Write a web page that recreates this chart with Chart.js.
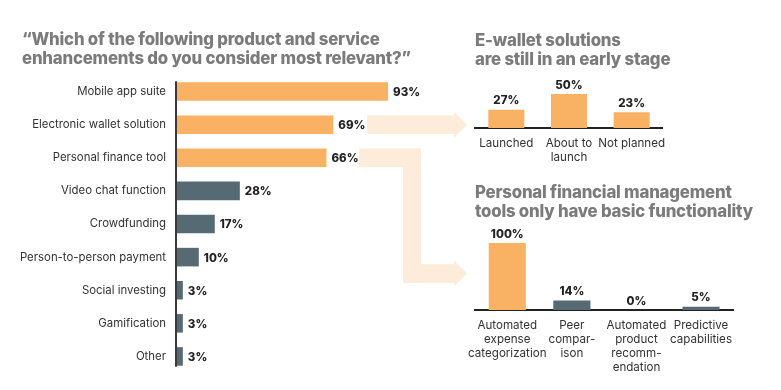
<!DOCTYPE html>
<html>
<head>
<meta charset="utf-8">
<script src="https://cdn.jsdelivr.net/npm/chart.js@4"></script>
<style>
  body { margin: 0; background: #fff; }
  #wrap { position: relative; width: 781px; height: 390px; overflow: hidden; }
  canvas { position: absolute; }
  .title { position: absolute; font-family: Inter, sans-serif; font-weight: 800; font-size: 16.8px;
           line-height: 19px; color: #7b7b7b; letter-spacing: -0.2px; white-space: nowrap; }
</style>
</head>
<body>
<div id="wrap">
  <canvas id="mainChart" style="left:0;top:0" width="781" height="390"></canvas>
  <canvas id="walletChart" style="left:455px;top:55px" width="218" height="115"></canvas>
  <canvas id="pfmChart" style="left:455px;top:225px" width="285" height="165"></canvas>
  <div class="title" style="left:22px;top:30px">“Which of the following product and service<br>enhancements do you consider most relevant?”</div>
  <div class="title" style="left:475px;top:31px">E-wallet solutions<br>are still in an early stage</div>
  <div class="title" style="left:475px;top:183px">Personal financial management<br>tools only have basic functionality</div>
</div>
<script>
// Dati
const categorie = ["Mobile app suite", "Electronic wallet solution", "Personal finance tool", "Video chat function",
    "Crowdfunding", "Person-to-person payment", "Social investing", "Gamification", "Other"];
const valori = [93, 69, 66, 28, 17, 10, 3, 3, 3];

const walletCategorie = ["Launched", ["About to", "launch"], "Not planned"];
const walletValori = [27, 50, 23];

const pfmCategorie = [["Automated", "expense", "categorization"], ["Peer", "compar-", "ison"],
    ["Automated", "product", "recomm-", "endation"], ["Predictive", "capabilities"]];
const pfmValori = [100, 14, 0, 5];

const ARANCIO = '#F9B264';
const GRIGIO = '#566A74';
const FRECCIA = '#FDECD9';
const FONT = "Inter, 'Noto Sans', sans-serif";

Chart.defaults.font.family = FONT;
Chart.defaults.color = '#333333';
Chart.defaults.animation = false;

// Etichette percentuali
const etichette = {
    id: 'etichette',
    afterDatasetsDraw(chart) {
        const ctx = chart.ctx;
        const meta = chart.getDatasetMeta(0);
        const orizz = chart.options.indexAxis === 'y';
        ctx.save();
        ctx.font = "800 11.5px " + FONT;
        ctx.fillStyle = '#222222';
        meta.data.forEach((bar, i) => {
            const txt = chart.data.datasets[0].data[i] + '%';
            if (orizz) {
                ctx.textAlign = 'left';
                ctx.textBaseline = 'middle';
                ctx.fillText(txt, bar.x + 5, bar.y + 1);
            } else {
                ctx.textAlign = 'center';
                ctx.textBaseline = 'bottom';
                ctx.fillText(txt, bar.x, bar.y - 3);
            }
        });
        ctx.restore();
    }
};

// Frecce e asse verticale
const frecce = {
    id: 'frecce',
    beforeDatasetsDraw(chart) {
        const ctx = chart.ctx;
        const y = chart.scales.y;
        const meta = chart.getDatasetMeta(0);
        const h = meta.data[0].height;
        const y1 = y.getPixelForValue(1);
        const y2 = y.getPixelForValue(2);
        ctx.save();
        ctx.fillStyle = FRECCIA;
        // freccia 1
        ctx.fillRect(367, y1 - h / 2, 88, h);
        ctx.beginPath();
        ctx.moveTo(454, y1 - 13);
        ctx.lineTo(467, y1);
        ctx.lineTo(454, y1 + 13);
        ctx.fill();
        // freccia 2
        const yb = 273.5;
        ctx.fillRect(359, y2 - h / 2, 62, h);
        ctx.fillRect(403, y2 - h / 2, 18, yb + h / 2 - (y2 - h / 2));
        ctx.fillRect(403, yb - h / 2, 52, h);
        ctx.beginPath();
        ctx.moveTo(454, yb - 13);
        ctx.lineTo(467, yb);
        ctx.lineTo(454, yb + 13);
        ctx.fill();
        ctx.restore();
    },
    afterDatasetsDraw(chart) {
        const ctx = chart.ctx;
        const y = chart.scales.y;
        const meta = chart.getDatasetMeta(0);
        const h = meta.data[0].height;
        const x0 = chart.scales.x.getPixelForValue(0);
        ctx.save();
        ctx.strokeStyle = '#3a3a3a';
        ctx.lineWidth = 2;
        ctx.beginPath();
        ctx.moveTo(x0, y.getPixelForValue(0) - h / 2 - 1);
        ctx.lineTo(x0, y.getPixelForValue(categorie.length - 1) + h / 2 + 1);
        ctx.stroke();
        ctx.restore();
    }
};

new Chart(document.getElementById('mainChart'), {
    type: 'bar',
    data: {
        labels: categorie,
        datasets: [{
            data: valori,
            backgroundColor: valori.map((v, i) => i < 3 ? ARANCIO : GRIGIO),
            barPercentage: 0.56,
            categoryPercentage: 1
        }]
    },
    options: {
        indexAxis: 'y',
        responsive: false,
        layout: { padding: { left: 0, right: 377, top: 75, bottom: 17 } },
        plugins: { legend: { display: false }, tooltip: { enabled: false } },
        scales: {
            x: { display: false, min: 0, max: 100 },
            y: {
                grid: { display: false, drawTicks: false },
                border: { display: false },
                afterFit(s) { s.width = 176; },
                ticks: { padding: 10, color: '#333333', font: { size: 11.4 } }
            }
        }
    },
    plugins: [frecce, etichette]
});

function piccolo(id, labels, data, colori, padTop, altAsse) {
    return new Chart(document.getElementById(id), {
        type: 'bar',
        data: {
            labels: labels,
            datasets: [{ data: data, backgroundColor: colori, barPercentage: 0.575, categoryPercentage: 1 }]
        },
        options: {
            responsive: false,
            layout: { padding: { left: 20, right: 0, top: padTop, bottom: 0 } },
            plugins: { legend: { display: false }, tooltip: { enabled: false } },
            scales: {
                y: { display: false, min: 0, max: 100 },
                x: {
                    grid: { display: false, drawTicks: false },
                    border: { display: true, color: '#222222', width: 2 },
                    afterFit(s) { s.height = altAsse; },
                    ticks: { padding: 8, autoSkip: false, maxRotation: 0, color: '#333333',
                             font: { size: 11.6, lineHeight: 1.23 } }
                }
            }
        },
        plugins: [etichette]
    });
}

piccolo('walletChart', walletCategorie, walletValori, [ARANCIO, ARANCIO, ARANCIO], 5, 42);
piccolo('pfmChart', pfmCategorie, pfmValori, [ARANCIO, GRIGIO, GRIGIO, GRIGIO], 18, 80);
</script>
</body>
</html>
